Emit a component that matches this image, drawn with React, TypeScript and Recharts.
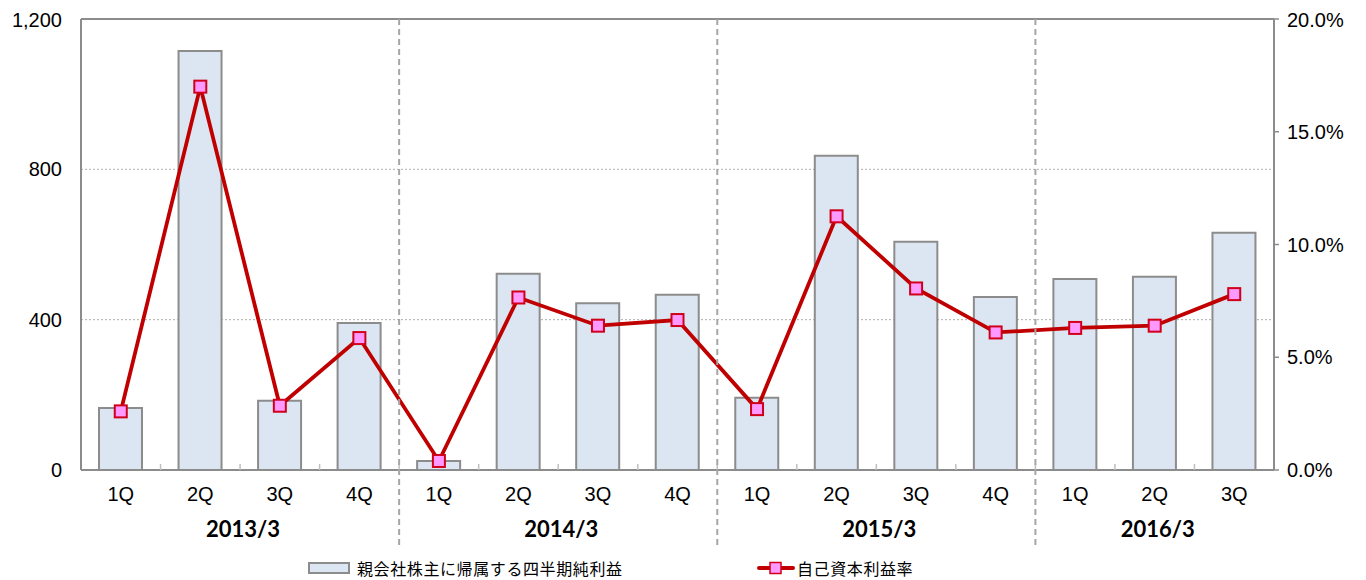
import React from "react";
import {
  ComposedChart,
  Bar,
  Line,
  XAxis,
  YAxis,
  CartesianGrid,
  ReferenceLine,
} from "recharts";

const quarters = ["1Q", "2Q", "3Q", "4Q", "1Q", "2Q", "3Q", "4Q", "1Q", "2Q", "3Q", "4Q", "1Q", "2Q", "3Q"];
const years = [
  "2013/3", "2013/3", "2013/3", "2013/3",
  "2014/3", "2014/3", "2014/3", "2014/3",
  "2015/3", "2015/3", "2015/3", "2015/3",
  "2016/3", "2016/3", "2016/3",
];
const netIncome = [165, 1115, 184, 391, 24, 522, 444, 466, 192, 836, 607, 460, 508, 514, 631];
const roe = [2.6, 17.0, 2.85, 5.85, 0.4, 7.65, 6.4, 6.65, 2.7, 11.25, 8.05, 6.1, 6.3, 6.4, 7.8];

const leftTicks = [0, 400, 800, 1200];
const rightTicks = [0, 5, 10, 15, 20];

const BAR_NAME = "親会社株主に帰属する四半期純利益";
const LINE_NAME = "自己資本利益率";

const data = quarters.map((q, i) => ({
  q,
  year: years[i],
  income: netIncome[i],
  roe: roe[i],
}));

const W = 1350;
const H = 550;
const LEFT_W = 73;
const RIGHT_W = 84;
const TOP = 11;
const PLOT_H = 451;
const BAND = (W - LEFT_W - RIGHT_W) / quarters.length;
const FONT = "'Liberation Sans', Arial, sans-serif";
const GRAY = "#8c8c8c";

const QuarterTick = (props: any) => {
  const { x, y, payload, index } = props;
  return (
    <g>
      {index > 0 && (
        <line x1={x - BAND / 2} x2={x - BAND / 2} y1={y} y2={y - 6} stroke="#bfbfbf" strokeWidth={1.5} />
      )}
      <text x={x} y={y + 24} textAnchor="middle" dominantBaseline="central" fontSize={20} fontFamily={FONT} fill="#000">
        {payload.value}
      </text>
    </g>
  );
};

const YearTick = (props: any) => {
  const { x, y, index } = props;
  if (index > 0 && years[index] === years[index - 1]) return null;
  let n = 0;
  while (years[index + n] === years[index]) n++;
  return (
    <g>
      {index > 0 && (
        <line
          x1={x - BAND / 2}
          x2={x - BAND / 2}
          y1={y - 30 - PLOT_H}
          y2={y + 46}
          stroke="#a6a6a6"
          strokeWidth={2}
          strokeDasharray="6 4"
        />
      )}
      <text
        x={x + ((n - 1) / 2) * BAND + 3}
        y={y + 28}
        textAnchor="middle"
        dominantBaseline="central"
        fontSize={22}
        fontWeight="bold"
        fontFamily="Lato, 'Open Sans', sans-serif"
        fill="#000"
      >
        {years[index]}
      </text>
    </g>
  );
};

const SquareDot = (props: any) => {
  const { cx, cy, index } = props;
  if (cx == null || cy == null) return null;
  return <rect key={index} x={cx - 6} y={cy - 6} width={12} height={12} fill="#ff99ff" stroke="#d0001a" strokeWidth={2} />;
};

export default function App() {
  return (
    <div style={{ position: "relative", width: W, height: 572 }}>
      <ComposedChart width={W} height={H} data={data} margin={{ top: TOP, right: 0, bottom: 13, left: 0 }}>
        <CartesianGrid yAxisId="left" vertical={false} stroke="#999" strokeWidth={0.8} strokeDasharray="2 2" />
        <XAxis
          dataKey="q"
          height={30}
          axisLine={{ stroke: GRAY, strokeWidth: 2 }}
          tickLine={false}
          tickSize={0}
          tickMargin={0}
          interval={0}
          tick={<QuarterTick />}
        />
        <XAxis
          xAxisId="year"
          dataKey="year"
          height={45}
          axisLine={false}
          tickLine={false}
          tickSize={0}
          tickMargin={0}
          interval={0}
          tick={<YearTick />}
        />
        <YAxis
          yAxisId="left"
          width={LEFT_W}
          domain={[0, 1200]}
          ticks={leftTicks}
          axisLine={{ stroke: GRAY, strokeWidth: 2 }}
          tickLine={false}
          tickSize={0}
          tickMargin={19}
          tick={{ fontSize: 20, fontFamily: FONT, fill: "#000" }}
          tickFormatter={(v: number) => v.toLocaleString("en-US")}
        />
        <YAxis
          yAxisId="right"
          orientation="right"
          width={RIGHT_W}
          domain={[0, 20]}
          ticks={rightTicks}
          axisLine={{ stroke: GRAY, strokeWidth: 2 }}
          tickLine={{ stroke: GRAY, strokeWidth: 1.5 }}
          tickSize={5}
          tickMargin={8}
          tick={{ fontSize: 20, fontFamily: FONT, fill: "#000" }}
          tickFormatter={(v: number) => v.toFixed(1) + "%"}
        />
        <ReferenceLine yAxisId="left" y={1200} stroke={GRAY} strokeWidth={2} />
        <Bar
          yAxisId="left"
          dataKey="income"
          name={BAR_NAME}
          barSize={43}
          fill="#dce6f2"
          stroke={GRAY}
          strokeWidth={2}
          isAnimationActive={false}
        />
        <Line
          yAxisId="right"
          dataKey="roe"
          name={LINE_NAME}
          stroke="#c00000"
          strokeWidth={3.8}
          dot={<SquareDot />}
          activeDot={false}
          isAnimationActive={false}
        />
      </ComposedChart>
      <div style={{ position: "absolute", left: 300, top: 550, height: 20, width: 1000, fontFamily: "'Noto Sans CJK JP', sans-serif", fontSize: 16, color: "#000" }}>
        <div style={{ position: "absolute", left: 0, top: 4, width: 42, height: 12, background: "#dce6f2", border: `2px solid ${GRAY}`, boxSizing: "border-box" }} />
        <div style={{ position: "absolute", left: 49, top: 0, lineHeight: "20px", whiteSpace: "nowrap", letterSpacing: 0.6 }}>{BAR_NAME}</div>
        <svg style={{ position: "absolute", left: 449, top: 0 }} width={38} height={20}>
          <line x1={2} x2={36} y1={10} y2={10} stroke="#c00000" strokeWidth={4} strokeLinecap="round" />
          <rect x={13} y={4.5} width={11} height={11} fill="#ff99ff" stroke="#d0001a" strokeWidth={1.5} />
        </svg>
        <div style={{ position: "absolute", left: 489, top: 0, lineHeight: "20px", whiteSpace: "nowrap", letterSpacing: 0.6 }}>{LINE_NAME}</div>
      </div>
    </div>
  );
}
